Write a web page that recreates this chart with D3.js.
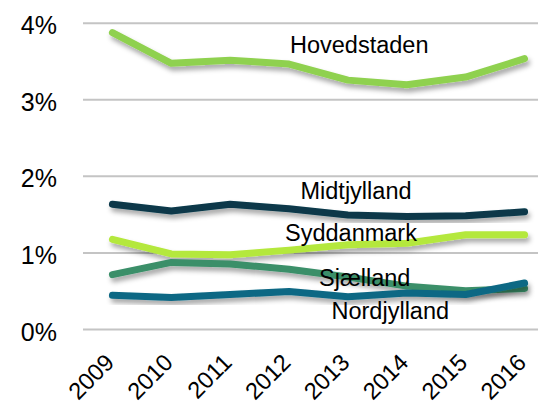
<!DOCTYPE html>
<html>
<head>
<meta charset="utf-8">
<script src="https://cdn.jsdelivr.net/npm/d3@7"></script>
<style>
  html, body { margin: 0; padding: 0; background: #fff; }
  svg { display: block; font-family: "Liberation Sans", Arial, sans-serif; }
</style>
</head>
<body>
<svg id="chart" width="538" height="407"></svg>
<script>
const years = ["2009", "2010", "2011", "2012", "2013", "2014", "2015", "2016"];
const yTicks = [0, 0.01, 0.02, 0.03, 0.04];
const regionNames = ["Hovedstaden", "Midtjylland", "Syddanmark", "Sjælland", "Nordjylland"];
const hovedstaden = [0.0387, 0.0347, 0.0351, 0.0346, 0.0325, 0.0319, 0.0329, 0.0353];
const midtjylland = [0.0163, 0.0154, 0.0163, 0.0157, 0.0149, 0.0147, 0.0148, 0.0153];
const syddanmark  = [0.0117, 0.0098, 0.0097, 0.0103, 0.0110, 0.0112, 0.0123, 0.0123];
const sjaelland   = [0.0071, 0.0087, 0.0085, 0.0078, 0.0068, 0.0056, 0.0050, 0.0053];
const nordjylland = [0.0044, 0.0041, 0.0045, 0.0049, 0.0042, 0.0047, 0.0045, 0.0060];
const colors = ["#8fd14f", "#08394a", "#b4e83c", "#3a8f69", "#0b6884"];

const seriesList = [hovedstaden, midtjylland, syddanmark, sjaelland, nordjylland];

const svg = d3.select("#chart");
const x = d3.scalePoint().domain(years).range([83, 554]).padding(0.5);
const y = d3.scaleLinear().domain([0, 0.04]).range([329, 22.7]);

const defs = svg.append("defs");
const f = defs.append("filter").attr("id", "shadow")
  .attr("x", "-10%").attr("y", "-50%").attr("width", "120%").attr("height", "200%");
f.append("feDropShadow").attr("dx", 2).attr("dy", 4).attr("stdDeviation", 2.5)
  .attr("flood-color", "#000").attr("flood-opacity", 0.35);

// gridlines
const yAxis = d3.axisLeft(y).tickValues(yTicks).tickFormat(d3.format(".0%"))
  .tickSize(-(538 - 83)).tickPadding(26);
const gy = svg.append("g").attr("transform", "translate(83,0)").call(yAxis);
gy.select(".domain").remove();
gy.selectAll(".tick line").attr("stroke", "#c4c4c4").attr("stroke-width", 2);
gy.selectAll(".tick text").attr("fill", "#000").style("font-size", "25px")
  .attr("font-family", "'Liberation Sans', Arial, sans-serif").attr("dy", "0.44em");

// x axis labels
const xAxis = d3.axisBottom(x).tickSize(0).tickPadding(0);
const gx = svg.append("g").attr("transform", "translate(0,364)").call(xAxis);
gx.select(".domain").remove();
gx.selectAll(".tick text").attr("fill", "#000").style("font-size", "23.6px")
  .attr("font-family", "'Liberation Sans', Arial, sans-serif")
  .attr("text-anchor", "end").attr("dy", 0).attr("y", 0).attr("x", 0)
  .attr("transform", "translate(2.5,0) rotate(-45)");

// lines
const line = d3.line().x((d, i) => x(years[i])).y(d => y(d));
svg.append("g").selectAll("path").data(seriesList).join("path")
  .attr("d", line).attr("fill", "none")
  .attr("stroke", (d, i) => colors[i]).attr("stroke-width", 7)
  .attr("stroke-linejoin", "round").attr("stroke-linecap", "round")
  .attr("filter", "url(#shadow)");

// labels
const labelPos = [[290, 52.7], [300.5, 199], [285, 241], [319, 286], [331.5, 319]];
svg.append("g").selectAll("text").data(regionNames).join("text")
  .attr("x", (d, i) => labelPos[i][0]).attr("y", (d, i) => labelPos[i][1])
  .attr("fill", "#000").style("font-size", "23.5px").text(d => d);
</script>
</body>
</html>
